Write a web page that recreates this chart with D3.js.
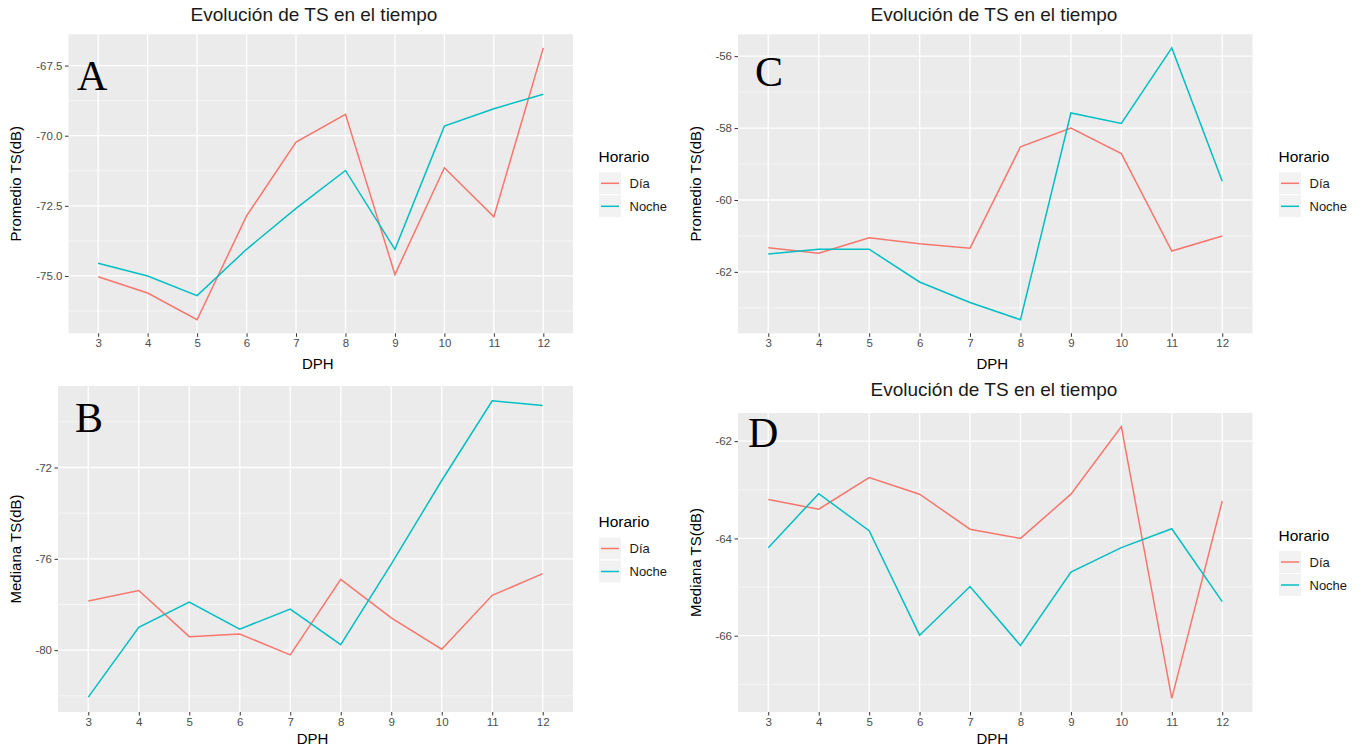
<!DOCTYPE html>
<html>
<head>
<meta charset="utf-8">
<script src="https://cdn.jsdelivr.net/npm/d3@7"></script>
<style>
  body { margin: 0; background: #fff; }
  svg { display: block; }
</style>
</head>
<body>
<svg id="chart" width="1361" height="751"></svg>
<script>
// DPH values on the x axis
const dph = [3, 4, 5, 6, 7, 8, 9, 10, 11, 12];

// A: promedio TS, left top
const diaA   = [-75.03, -75.61, -76.56, -72.86, -70.23, -69.24, -74.95, -71.14, -72.89, -66.87];
const nocheA = [-74.55, -75.00, -75.70, -74.05, -72.59, -71.24, -74.05, -69.66, -69.04, -68.52];
// B: mediana TS, left bottom
const diaB   = [-77.85, -77.39, -79.41, -79.29, -80.21, -76.90, -78.59, -79.96, -77.60, -76.65];
const nocheB = [-82.06, -79.00, -77.90, -79.08, -78.20, -79.76, -76.23, -72.57, -69.08, -69.29];
// C: promedio TS, right top
const diaC   = [-61.33, -61.48, -61.05, -61.22, -61.34, -58.52, -58.00, -58.71, -61.42, -61.00];
const nocheC = [-61.50, -61.37, -61.37, -62.28, -62.85, -63.33, -57.58, -57.87, -55.77, -59.48];
// D: mediana TS, right bottom
const diaD   = [-63.20, -63.40, -62.75, -63.09, -63.81, -64.00, -63.09, -61.70, -67.29, -63.23];
const nocheD = [-64.19, -63.08, -63.84, -65.99, -64.99, -66.20, -64.69, -64.19, -63.80, -65.30];

// y tick values and labels
const ticksA = [-75, -72.5, -70, -67.5];
const labelsA = ["-75.0", "-72.5", "-70.0", "-67.5"];
const ticksB = [-80, -76, -72];
const labelsB = ["-80", "-76", "-72"];
const ticksC = [-62, -60, -58, -56];
const labelsC = ["-62", "-60", "-58", "-56"];
const ticksD = [-66, -64, -62];
const labelsD = ["-66", "-64", "-62"];

const seriesNames = ["Día", "Noche"];
const colors = ["#F8766D", "#00BFC4"];

const svg = d3.select("#chart");
const font = "'Liberation Sans', Arial, sans-serif";

const panels = [
  { tag: "A", dia: diaA, noche: nocheA, ticks: ticksA, labels: labelsA, ylab: "Promedio TS(dB)",
    x0: 68.5, x1: 573, y0: 34.3, y1: 333.3, title: true, ox: 0, oy: 0, tagX: 77, tagY: 90 },
  { tag: "B", dia: diaB, noche: nocheB, ticks: ticksB, labels: labelsB, ylab: "Mediana TS(dB)",
    x0: 58, x1: 573, y0: 386, y1: 712, title: false, ox: 0, oy: 375, tagX: 75, tagY: 432 },
  { tag: "C", dia: diaC, noche: nocheC, ticks: ticksC, labels: labelsC, ylab: "Promedio TS(dB)",
    x0: 738, x1: 1252.5, y0: 34.3, y1: 333.3, title: true, ox: 680, oy: 0, tagX: 755, tagY: 86 },
  { tag: "D", dia: diaD, noche: nocheD, ticks: ticksD, labels: labelsD, ylab: "Mediana TS(dB)",
    x0: 738, x1: 1252.5, y0: 413, y1: 712, title: true, ox: 680, oy: 375, tagX: 748, tagY: 447 }
];

panels.forEach(p => {
  const g = svg.append("g");

  const x = d3.scalePoint().domain(dph).range([p.x0, p.x1]).padding(0.6);
  const ext = d3.extent(p.dia.concat(p.noche));
  const pad = (ext[1] - ext[0]) * 0.05;
  const y = d3.scaleLinear().domain([ext[0] - pad, ext[1] + pad]).range([p.y1, p.y0]);

  // panel background
  g.append("rect")
    .attr("x", p.x0).attr("y", p.y0)
    .attr("width", p.x1 - p.x0).attr("height", p.y1 - p.y0)
    .attr("fill", "#EBEBEB");

  // minor grid (halfway between major breaks)
  const step = p.ticks[1] - p.ticks[0];
  const minor = [p.ticks[0] - step / 2].concat(p.ticks.map(t => t + step / 2))
    .filter(v => v > y.domain()[0] && v < y.domain()[1]);
  g.selectAll(".minor").data(minor).join("line")
    .attr("x1", p.x0).attr("x2", p.x1)
    .attr("y1", d => y(d)).attr("y2", d => y(d))
    .attr("stroke", "#fff").attr("stroke-width", 0.6);

  // major grid
  g.selectAll(".hmajor").data(p.ticks).join("line")
    .attr("x1", p.x0).attr("x2", p.x1)
    .attr("y1", d => y(d)).attr("y2", d => y(d))
    .attr("stroke", "#fff").attr("stroke-width", 1.3);
  g.selectAll(".vmajor").data(dph).join("line")
    .attr("x1", d => x(d)).attr("x2", d => x(d))
    .attr("y1", p.y0).attr("y2", p.y1)
    .attr("stroke", "#fff").attr("stroke-width", 1.3);

  // lines
  const line = d3.line().x((d, i) => x(dph[i])).y(d => y(d));
  [p.dia, p.noche].forEach((s, i) => {
    g.append("path")
      .attr("d", line(s))
      .attr("fill", "none")
      .attr("stroke", colors[i])
      .attr("stroke-width", 1.5);
  });

  // axes
  const yAxis = g.append("g")
    .attr("transform", `translate(${p.x0},0)`)
    .call(d3.axisLeft(y).tickValues(p.ticks).tickFormat((d, i) => p.labels[i])
      .tickSize(3.5).tickPadding(2.5));
  const xAxis = g.append("g")
    .attr("transform", `translate(0,${p.y1})`)
    .call(d3.axisBottom(x).tickSize(3.5).tickPadding(2.5));
  [yAxis, xAxis].forEach(a => {
    a.select(".domain").remove();
    a.selectAll(".tick line").attr("stroke", "#333333").attr("stroke-width", 1);
    a.selectAll(".tick text")
      .attr("fill", "#4D4D4D")
      .attr("font-size", "11.5px")
      .attr("font-family", font);
  });

  // axis titles
  g.append("text")
    .attr("x", (p.x0 + p.x1) / 2 - 3)
    .attr("y", p.oy + 369)
    .attr("text-anchor", "middle")
    .attr("font-size", "15px")
    .attr("font-family", font)
    .text("DPH");
  g.append("text")
    .attr("transform", `translate(${p.ox + 21},${(p.y0 + p.y1) / 2}) rotate(-90)`)
    .attr("text-anchor", "middle")
    .attr("font-size", "15px")
    .attr("font-family", font)
    .text(p.ylab);

  if (p.title) {
    g.append("text")
      .attr("x", p.ox + 314)
      .attr("y", p.oy + 21)
      .attr("text-anchor", "middle")
      .attr("font-size", "19px")
      .attr("font-family", font)
      .attr("fill", "#1a1a1a")
      .text("Evolución de TS en el tiempo");
  }

  // legend, centred on the panel
  const lx = p.ox + 598.5;
  const ly = (p.y0 + p.y1) / 2 - 22;
  g.append("text")
    .attr("x", lx).attr("y", ly)
    .attr("font-size", "15.5px")
    .attr("font-family", font)
    .text("Horario");
  seriesNames.forEach((name, i) => {
    const ky = ly + 10 + i * 23;
    g.append("rect")
      .attr("x", lx).attr("y", ky)
      .attr("width", 23).attr("height", 23)
      .attr("fill", "#F2F2F2").attr("stroke", "#fff").attr("stroke-width", 1);
    g.append("line")
      .attr("x1", lx + 2.5).attr("x2", lx + 20.5)
      .attr("y1", ky + 11.5).attr("y2", ky + 11.5)
      .attr("stroke", colors[i]).attr("stroke-width", 1.5);
    g.append("text")
      .attr("x", lx + 31).attr("y", ky + 16)
      .attr("font-size", "13px")
      .attr("font-family", font)
      .attr("fill", "#1a1a1a")
      .text(name);
  });

  // panel tag letter
  g.append("text")
    .attr("x", p.tagX).attr("y", p.tagY)
    .attr("font-size", "42px")
    .attr("font-family", "'Liberation Serif', 'Times New Roman', serif")
    .text(p.tag);
});
</script>
</body>
</html>
